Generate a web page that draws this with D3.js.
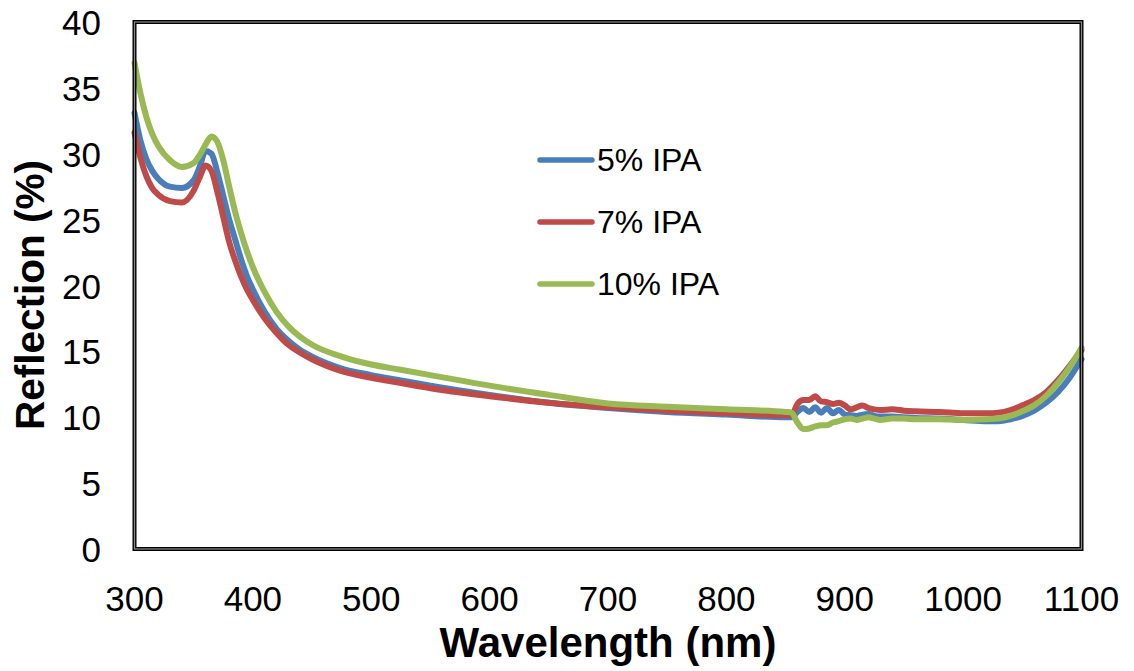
<!DOCTYPE html>
<html>
<head>
<meta charset="utf-8">
<script src="https://cdn.jsdelivr.net/npm/d3@7"></script>
<style>
  body { margin: 0; background: #fff; }
  svg { display: block; font-family: "Liberation Sans", Arial, sans-serif; }
</style>
</head>
<body>
<svg id="chart" width="1134" height="671"></svg>
<script>
/* Data */
const wavelengths = [300, 305, 310, 315, 320, 330, 340, 350, 355, 360, 365, 370, 375, 380, 385, 390, 395, 400,
  410, 420, 430, 440, 450, 475, 500, 525, 550, 600, 650, 700, 750, 800, 850, 855, 860, 865, 870, 875, 880,
  885, 890, 895, 900, 905, 910, 915, 920, 925, 930, 940, 950, 960, 980, 1000, 1020, 1030, 1040, 1050,
  1060, 1070, 1080, 1090, 1100];

const ipa5 = [33.1, 31.0, 29.6, 28.7, 28.1, 27.5, 27.4, 28.0, 29.0, 30.2, 30.0, 28.6, 26.8, 25.0, 23.5, 22.0, 20.7, 19.7,
  18.0, 16.7, 15.8, 15.1, 14.6, 13.7, 13.2, 12.8, 12.4, 11.7, 11.1, 10.7, 10.4, 10.2, 10.0, 10.0, 10.4, 10.7, 10.4, 10.75, 10.35,
  10.7, 10.3, 10.55, 10.2, 10.15, 10.1, 10.2, 10.25, 10.1, 10.05, 10.05, 10.0, 9.95, 9.9, 9.8, 9.7, 9.7, 9.85, 10.1,
  10.5, 11.1, 11.9, 13.0, 14.4];

const ipa7 = [31.6, 29.7, 28.3, 27.4, 26.9, 26.4, 26.3, 27.2, 28.2, 29.1, 28.7, 27.1, 25.2, 23.3, 21.9, 20.7, 19.7, 18.9,
  17.5, 16.4, 15.5, 14.9, 14.4, 13.5, 13.0, 12.6, 12.2, 11.6, 11.1, 10.75, 10.5, 10.3, 10.15, 10.15, 11.0, 11.3, 11.3, 11.6, 11.2,
  11.15, 11.0, 11.1, 10.9, 10.6, 10.75, 10.9, 10.7, 10.6, 10.55, 10.6, 10.5, 10.45, 10.4, 10.3, 10.3, 10.35, 10.55, 10.9,
  11.3, 11.9, 12.8, 13.9, 15.1];

const ipa10 = [36.9, 34.6, 32.8, 31.5, 30.6, 29.5, 29.0, 29.3, 29.9, 30.7, 31.3, 30.9, 29.5, 27.5, 25.6, 24.0, 22.6, 21.4,
  19.5, 18.0, 16.9, 16.1, 15.5, 14.6, 14.0, 13.6, 13.2, 12.4, 11.7, 11.05, 10.8, 10.6, 10.4, 10.35, 9.6, 9.1, 9.15, 9.3, 9.4,
  9.4, 9.6, 9.7, 9.85, 9.9, 9.8, 9.9, 10.0, 9.9, 9.8, 9.9, 9.9, 9.85, 9.85, 9.8, 9.85, 9.9, 10.1, 10.45,
  10.9, 11.6, 12.6, 13.8, 15.25];

const seriesNames = ["5% IPA", "7% IPA", "10% IPA"];
const seriesColors = ["#4a7ebb", "#be4b48", "#98b954"];
const xTicks = [300, 400, 500, 600, 700, 800, 900, 1000, 1100];
const yTicks = [0, 5, 10, 15, 20, 25, 30, 35, 40];

/* Layout */
let plot = {left: 134.5, right: 1081.5, top: 22, bottom: 549};

let svg = d3.select("#chart");

let xScale = d3.scaleLinear()
               .domain([300, 1100])
               .range([plot.left, plot.right]);
let yScale = d3.scaleLinear()
               .domain([0, 40])
               .range([plot.bottom, plot.top]);

// y tick labels
svg.append("g")
   .selectAll("text")
   .data(yTicks)
   .join("text")
     .attr("x", 101)
     .attr("y", d => yScale(d) + 13)
     .attr("text-anchor", "end")
     .attr("font-size", 35)
     .attr("fill", "#000")
     .text(d => d);

// x tick labels
svg.append("g")
   .selectAll("text")
   .data(xTicks)
   .join("text")
     .attr("x", d => xScale(d))
     .attr("y", 611)
     .attr("text-anchor", "middle")
     .attr("font-size", 35)
     .attr("fill", "#000")
     .text(d => d);

// axis titles
svg.append("text")
   .attr("transform", "translate(44, 295) rotate(-90)")
   .attr("text-anchor", "middle")
   .attr("font-size", 40.5)
   .attr("font-weight", "bold")
   .text("Reflection (%)");

svg.append("text")
   .attr("x", 608)
   .attr("y", 657)
   .attr("text-anchor", "middle")
   .attr("font-size", 42)
   .attr("font-weight", "bold")
   .text("Wavelength (nm)");

// the lines
let seriesValues = [ipa5, ipa7, ipa10];
let line = d3.line()
             .x(d => xScale(d.x))
             .y(d => yScale(d.y))
             .curve(d3.curveMonotoneX);

seriesValues.forEach((vals, i) => {
  let pts = wavelengths.map((w, j) => ({x: w, y: vals[j]}));
  svg.append("path")
     .attr("d", line(pts))
     .attr("fill", "none")
     .attr("stroke", seriesColors[i])
     .attr("stroke-width", 6)
     .attr("stroke-linejoin", "round")
     .attr("stroke-linecap", "round");
});

// plot frame (double-ish border)
svg.append("rect")
   .attr("x", plot.left)
   .attr("y", plot.top)
   .attr("width", plot.right - plot.left)
   .attr("height", plot.bottom - plot.top)
   .attr("fill", "none")
   .attr("stroke", "#000")
   .attr("stroke-width", 4);
svg.append("rect")
   .attr("x", plot.left)
   .attr("y", plot.top)
   .attr("width", plot.right - plot.left)
   .attr("height", plot.bottom - plot.top)
   .attr("fill", "none")
   .attr("stroke", "#8a8a8a")
   .attr("stroke-width", 1.2);

// legend
let legend = svg.append("g");
seriesNames.forEach((name, i) => {
  let ly = 160 + i * 62;
  legend.append("line")
        .attr("x1", 540).attr("x2", 592)
        .attr("y1", ly).attr("y2", ly)
        .attr("stroke", seriesColors[i])
        .attr("stroke-width", 5.5)
        .attr("stroke-linecap", "round");
  legend.append("text")
        .attr("x", 597)
        .attr("y", ly + 11)
        .attr("font-size", 32)
        .text(name);
});
</script>
</body>
</html>
